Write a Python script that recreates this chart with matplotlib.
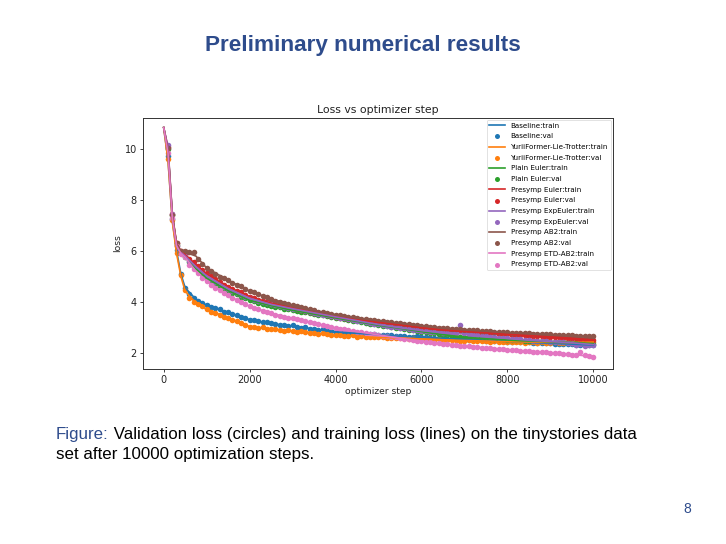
import numpy as np
import matplotlib
matplotlib.use("Agg")
import matplotlib.pyplot as plt

# ---------------- data ----------------
val_steps = list(range(100, 10001, 100))
train_steps = [0, 100, 200, 300, 400, 500, 750, 1000, 1500, 2000, 2500, 3000, 3500,
               4000, 4500, 5000, 5500, 6000, 6500, 7000, 7500, 8000, 8500, 9000, 9500, 10000]

labels = ["Baseline", "YuriiFormer-Lie-Trotter", "Plain Euler", "Presymp Euler",
          "Presymp ExpEuler", "Presymp AB2", "Presymp ETD-AB2"]

baseline_val = [9.75, 7.25, 6.05, 5.10, 4.55, 4.32, 4.15, 4.05, 3.97, 3.88,
                3.80, 3.74, 3.70, 3.62, 3.60, 3.52, 3.48, 3.42, 3.36, 3.30,
                3.27, 3.25, 3.20, 3.22, 3.15, 3.12, 3.08, 3.10, 3.05, 3.08,
                3.02, 2.98, 3.00, 2.95, 2.92, 2.90, 2.93, 2.86, 2.84, 2.82,
                2.83, 2.80, 2.78, 2.79, 2.75, 2.76, 2.73, 2.72, 2.74, 2.70,
                2.69, 2.68, 2.70, 2.66, 2.65, 2.66, 2.63, 2.62, 2.64, 2.60,
                2.61, 2.58, 2.57, 2.59, 2.56, 2.55, 2.56, 2.53, 2.54, 2.52,
                2.51, 2.52, 2.49, 2.50, 2.48, 2.47, 2.48, 2.45, 2.46, 2.44,
                2.43, 2.45, 2.42, 2.41, 2.42, 2.39, 2.40, 2.38, 2.37, 2.38,
                2.36, 2.35, 2.36, 2.33, 2.34, 2.32, 2.31, 2.32, 2.30, 2.29]
yurii_val = [9.62, 7.20, 5.93, 5.05, 4.45, 4.15, 4.00, 3.90, 3.82, 3.72,
             3.62, 3.55, 3.48, 3.42, 3.38, 3.30, 3.25, 3.18, 3.10, 3.02,
             3.00, 2.98, 3.01, 2.95, 2.92, 2.94, 2.88, 2.86, 2.89, 2.84,
             2.82, 2.84, 2.80, 2.78, 2.77, 2.75, 2.78, 2.72, 2.70, 2.68,
             2.71, 2.67, 2.66, 2.68, 2.63, 2.65, 2.62, 2.61, 2.63, 2.60,
             2.61, 2.58, 2.59, 2.57, 2.58, 2.56, 2.55, 2.57, 2.54, 2.53,
             2.55, 2.52, 2.51, 2.53, 2.50, 2.51, 2.49, 2.50, 2.48, 2.47,
             2.49, 2.46, 2.47, 2.45, 2.46, 2.44, 2.45, 2.43, 2.44, 2.42,
             2.43, 2.41, 2.42, 2.40, 2.41, 2.42, 2.40, 2.41, 2.39, 2.40,
             2.42, 2.40, 2.39, 2.41, 2.40, 2.42, 2.41, 2.43, 2.42, 2.43]
plain_val = [10.00, 7.40, 6.25, 5.95, 5.75, 5.55, 5.38, 5.22, 5.08, 4.95,
             4.82, 4.72, 4.63, 4.52, 4.46, 4.36, 4.29, 4.20, 4.14, 4.07,
             4.03, 3.97, 3.93, 3.89, 3.85, 3.80, 3.78, 3.73, 3.72, 3.68,
             3.65, 3.61, 3.60, 3.55, 3.53, 3.50, 3.48, 3.44, 3.41, 3.36,
             3.35, 3.31, 3.29, 3.26, 3.23, 3.20, 3.18, 3.14, 3.13, 3.09,
             3.07, 3.04, 3.02, 2.98, 2.97, 2.93, 2.91, 2.88, 2.86, 2.82,
             2.81, 2.77, 2.76, 2.72, 2.71, 2.68, 2.66, 2.63, 2.63, 2.60,
             2.60, 2.58, 2.58, 2.56, 2.56, 2.55, 2.54, 2.53, 2.53, 2.50,
             2.51, 2.49, 2.49, 2.48, 2.47, 2.46, 2.47, 2.45, 2.45, 2.43,
             2.43, 2.42, 2.42, 2.41, 2.41, 2.40, 2.39, 2.38, 2.38, 2.36]
euler_val = [10.10, 7.45, 6.30, 6.00, 5.85, 5.70, 5.55, 5.40, 5.25, 5.12,
             5.00, 4.88, 4.78, 4.68, 4.60, 4.52, 4.44, 4.37, 4.28, 4.20,
             4.14, 4.09, 4.03, 3.98, 3.94, 3.90, 3.86, 3.82, 3.78, 3.74,
             3.71, 3.68, 3.64, 3.61, 3.58, 3.55, 3.52, 3.47, 3.43, 3.40,
             3.38, 3.36, 3.33, 3.31, 3.29, 3.27, 3.25, 3.23, 3.21, 3.19,
             3.17, 3.15, 3.13, 3.11, 3.09, 3.07, 3.05, 3.03, 3.00, 2.97,
             2.96, 2.94, 2.92, 2.91, 2.89, 2.88, 2.87, 2.86, 2.84, 2.83,
             2.82, 2.81, 2.80, 2.79, 2.78, 2.77, 2.76, 2.74, 2.73, 2.72,
             2.71, 2.70, 2.69, 2.68, 2.67, 2.66, 2.65, 2.64, 2.63, 2.62,
             2.61, 2.60, 2.59, 2.58, 2.57, 2.56, 2.54, 2.53, 2.52, 2.50]
expeuler_val = [10.15, 7.45, 6.20, 5.95, 5.80, 5.62, 5.46, 5.30, 5.16, 5.02,
                4.90, 4.80, 4.70, 4.60, 4.52, 4.44, 4.36, 4.28, 4.20, 4.14,
                4.08, 4.03, 3.98, 3.94, 3.90, 3.86, 3.82, 3.79, 3.76, 3.73,
                3.70, 3.66, 3.63, 3.60, 3.56, 3.53, 3.50, 3.47, 3.44, 3.41,
                3.38, 3.35, 3.32, 3.29, 3.26, 3.23, 3.20, 3.17, 3.14, 3.11,
                3.08, 3.05, 3.03, 3.00, 2.98, 2.96, 2.93, 2.91, 2.89, 2.87,
                2.85, 2.83, 2.81, 2.80, 2.78, 2.77, 2.76, 2.78, 3.08, 2.76,
                2.72, 2.70, 2.68, 2.66, 2.64, 2.62, 2.60, 2.58, 2.57, 2.56,
                2.54, 2.53, 2.52, 2.50, 2.49, 2.48, 2.47, 2.46, 2.45, 2.44,
                2.43, 2.42, 2.41, 2.40, 2.39, 2.30, 2.36, 2.28, 2.32, 2.30]
ab2_val = [10.05, 7.40, 6.30, 6.00, 5.98, 5.97, 5.95, 5.70, 5.50, 5.35,
           5.22, 5.10, 4.98, 4.95, 4.85, 4.75, 4.68, 4.62, 4.52, 4.42,
           4.38, 4.30, 4.24, 4.18, 4.12, 4.05, 4.00, 3.95, 3.92, 3.86,
           3.82, 3.79, 3.74, 3.70, 3.66, 3.62, 3.60, 3.57, 3.53, 3.50,
           3.47, 3.45, 3.42, 3.39, 3.37, 3.34, 3.32, 3.30, 3.28, 3.26,
           3.24, 3.22, 3.20, 3.18, 3.16, 3.14, 3.12, 3.10, 3.08, 3.06,
           3.05, 3.03, 3.01, 2.99, 2.98, 2.96, 2.95, 2.93, 2.92, 2.91,
           2.90, 2.89, 2.88, 2.86, 2.85, 2.84, 2.83, 2.82, 2.81, 2.80,
           2.79, 2.78, 2.77, 2.77, 2.76, 2.75, 2.74, 2.73, 2.72, 2.72,
           2.71, 2.70, 2.69, 2.69, 2.68, 2.67, 2.67, 2.66, 2.65, 2.65]
etd_val = [9.85, 7.30, 6.20, 5.90, 5.75, 5.45, 5.28, 5.12, 4.95, 4.82,
           4.68, 4.55, 4.45, 4.35, 4.25, 4.16, 4.07, 3.98, 3.90, 3.82,
           3.76, 3.70, 3.65, 3.60, 3.55, 3.50, 3.46, 3.42, 3.38, 3.35,
           3.31, 3.27, 3.24, 3.20, 3.16, 3.12, 3.09, 3.05, 3.02, 2.98,
           2.95, 2.92, 2.89, 2.86, 2.83, 2.80, 2.77, 2.75, 2.72, 2.70,
           2.67, 2.64, 2.62, 2.60, 2.57, 2.55, 2.52, 2.50, 2.48, 2.46,
           2.44, 2.42, 2.40, 2.38, 2.36, 2.34, 2.32, 2.30, 2.28, 2.26,
           2.25, 2.23, 2.22, 2.20, 2.19, 2.17, 2.16, 2.14, 2.13, 2.12,
           2.10, 2.09, 2.08, 2.06, 2.05, 2.04, 2.03, 2.02, 2.01, 2.00,
           1.99, 1.97, 1.96, 1.95, 1.93, 1.92, 2.02, 1.90, 1.87, 1.85]

baseline_train = [10.85, 9.60, 7.20, 6.00, 5.10, 4.55, 4.10, 3.87, 3.58, 3.30, 3.14, 3.05, 2.93,
                  2.82, 2.76, 2.71, 2.65, 2.60, 2.57, 2.52, 2.48, 2.44, 2.41, 2.38, 2.34, 2.30]
yurii_train = [10.85, 9.55, 7.15, 5.90, 5.00, 4.42, 3.95, 3.70, 3.38, 3.03, 2.93, 2.85, 2.77,
               2.69, 2.64, 2.60, 2.58, 2.54, 2.51, 2.48, 2.46, 2.43, 2.42, 2.41, 2.40, 2.42]
plain_train = [10.85, 9.95, 7.40, 6.25, 5.95, 5.75, 5.30, 4.93, 4.44, 4.06, 3.85, 3.67, 3.52,
               3.37, 3.23, 3.08, 2.96, 2.83, 2.71, 2.61, 2.55, 2.50, 2.46, 2.43, 2.40, 2.36]
euler_train = [10.85, 10.05, 7.45, 6.30, 6.00, 5.85, 5.47, 5.10, 4.59, 4.21, 3.95, 3.75, 3.58,
               3.41, 3.29, 3.19, 3.09, 2.98, 2.89, 2.83, 2.78, 2.72, 2.67, 2.62, 2.57, 2.50]
expeuler_train = [10.85, 10.10, 7.45, 6.20, 5.95, 5.80, 5.38, 5.02, 4.52, 4.14, 3.90, 3.73, 3.57,
                  3.41, 3.26, 3.11, 2.98, 2.87, 2.78, 2.74, 2.64, 2.56, 2.49, 2.44, 2.39, 2.32]
ab2_train = [10.85, 10.00, 7.40, 6.30, 6.00, 5.95, 5.80, 5.33, 4.85, 4.42, 4.12, 3.87, 3.66,
             3.50, 3.37, 3.26, 3.16, 3.06, 2.98, 2.91, 2.85, 2.80, 2.76, 2.72, 2.68, 2.65]
etd_train = [10.85, 9.85, 7.30, 6.20, 5.90, 5.75, 5.20, 4.82, 4.25, 3.82, 3.55, 3.35, 3.16,
             2.98, 2.83, 2.70, 2.57, 2.46, 2.36, 2.26, 2.19, 2.12, 2.05, 2.00, 1.93, 1.85]

train_series = [baseline_train, yurii_train, plain_train, euler_train,
                expeuler_train, ab2_train, etd_train]
val_series = [baseline_val, yurii_val, plain_val, euler_val,
              expeuler_val, ab2_val, etd_val]

x_ticks = [0, 2000, 4000, 6000, 8000, 10000]
y_ticks = [2, 4, 6, 8, 10]

# ---------------- figure ----------------
W, H = 726, 544
fig = plt.figure(figsize=(W / 100, H / 100), dpi=100)
fig.patch.set_facecolor("white")

slide_blue = "#2E4C8C"
fig.text(0.5, 1 - 51.5 / H, "Preliminary numerical results", ha="center", va="baseline",
         fontsize=16.2, fontweight="bold", color=slide_blue, family="Liberation Sans")

ax = fig.add_axes([142.7 / W, 1 - 369 / H, (613 - 142.7) / W, (369 - 117.7) / H])
colors = plt.rcParams["axes.prop_cycle"].by_key()["color"]
for i, name in enumerate(labels):
    c = colors[i]
    ax.plot(train_steps, train_series[i], color=c, lw=1.2, label=f"{name}:train")
    ax.scatter(val_steps, val_series[i], color=c, s=16, linewidths=0, label=f"{name}:val")

ax.set_xlim(-489, 10459)
ax.set_ylim(1.36, 11.24)
ax.set_xticks(x_ticks)
ax.set_yticks(y_ticks)
ax.tick_params(labelsize=7, length=2.3, width=0.6, pad=2, colors="#222222")
for sp in ax.spines.values():
    sp.set_linewidth(0.7)
    sp.set_color("#333333")
ax.set_title("Loss vs optimizer step", fontsize=7.8, pad=3.5, color="#222222")
ax.set_xlabel("optimizer step", fontsize=6.6, labelpad=1.5, color="#222222")
ax.set_ylabel("loss", fontsize=6.6, labelpad=2, color="#222222")
leg = ax.legend(loc="upper right", fontsize=5.1, borderaxespad=0.3, handlelength=2.2,
                labelspacing=0.66, scatterpoints=1, framealpha=0.8, markerscale=0.9)
leg.get_frame().set_linewidth(0.5)

# caption
y1 = 1 - 439 / H
y2 = 1 - 459.5 / H
t1 = fig.text(56 / W, y1, "Figure:", color=slide_blue, fontsize=12.2,
              family="Liberation Sans", va="baseline")
fig.canvas.draw()
ax.annotate(" Validation loss (circles) and training loss (lines) on the tinystories data",
            xy=(1, y1), xycoords=(t1, "figure fraction"), va="baseline", ha="left",
            fontsize=12.2, family="Liberation Sans", color="black", annotation_clip=False)
fig.text(56 / W, y2, "set after 10000 optimization steps.", color="black", fontsize=12.2,
         family="Liberation Sans", va="baseline")
fig.text(691 / W, 1 - 513 / H, "8", color=slide_blue, fontsize=10,
         family="Liberation Sans", va="baseline", ha="right")

fig.savefig("out.png", dpi=100, facecolor="white")
